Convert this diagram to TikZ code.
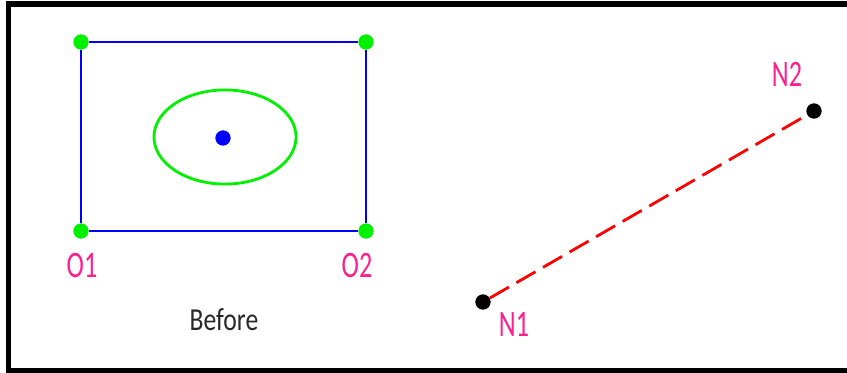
\documentclass[tikz,border=0pt]{standalone}
\usepackage{fontspec}
\setmainfont{Carlito}
\newfontfamily\lblfont[FakeStretch=0.7]{Carlito}
\newfontfamily\capfont[FakeStretch=0.8]{Carlito}
\definecolor{ptpink}{RGB}{255,30,140}
\definecolor{ptgreen}{RGB}{0,240,0}
\definecolor{ptblue}{RGB}{0,0,255}
\definecolor{ptred}{RGB}{255,0,0}
\definecolor{ptgray}{RGB}{40,40,40}
\usetikzlibrary{positioning}

\begin{document}
\begin{tikzpicture}[x=0.75pt, y=-0.75pt,
  cornerdot/.style={circle, fill=ptgreen, inner sep=0pt, minimum size=11.5pt},
  enddot/.style={circle, fill=black, inner sep=0pt, minimum size=11.5pt},
  ptlabel/.style={text=ptpink, font=\lblfont\fontsize{28}{32}\selectfont, inner sep=0pt}]
  \clip (0,0) rectangle (847,372);
  % Frame
  \draw[line width=4.2pt] (8.5,4) rectangle (900,371);
  % Box with its corner points
  \node[cornerdot] (t1) at (81,42) {};
  \node[cornerdot] (t2) at (366,42) {};
  \node[cornerdot] (o1) at (81,231) {};
  \node[cornerdot] (o2) at (366,231) {};
  \draw[ptblue, line width=2.1pt] (t1) -- (t2);
  \draw[ptblue, line width=2.1pt] (t2) -- (o2);
  \draw[ptblue, line width=2.1pt] (o2) -- (o1);
  \draw[ptblue, line width=2.1pt] (o1) -- (t1);
  % Ellipse and centre
  \draw[ptgreen, line width=2.1pt] (225,137) ellipse [x radius=53.3pt, y radius=35.3pt];
  \node[circle, fill=ptblue, inner sep=0pt, minimum size=11.5pt] (ctr) at (223,138) {};
  \node[ptlabel] (lo1) at (82,266) {O1};
  \node[ptlabel] (lo2) at (357,266) {O2};
  \node[text=ptgray, font=\capfont\fontsize{24}{28}\selectfont, inner sep=0pt] (bef) at (224,320) {Before};
  % Segment
  \node[enddot] (n1) at (483,302) {};
  \node[enddot] (n2) at (814,111) {};
  \draw[ptred, line width=2.1pt, dash pattern=on 16.5pt off 6.5pt] (n1) -- (n2);
  \node[ptlabel] (ln1) at (514,324) {N1};
  \node[ptlabel] (ln2) at (787,74) {N2};
\end{tikzpicture}
\end{document}
